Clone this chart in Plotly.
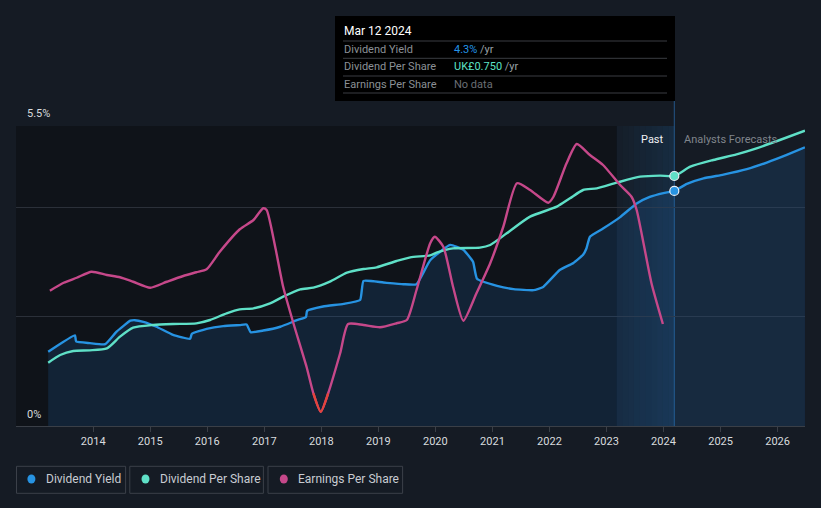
import math
from datetime import datetime
import plotly.graph_objects as go

# ---------------- data (decimal years) ----------------
yield_x = [2013.21, 2013.68, 2013.70, 2013.94, 2014.21, 2014.41, 2014.65, 2014.73, 2014.88, 2015.11,
           2015.40, 2015.70, 2015.73, 2015.99, 2016.28, 2016.57, 2016.69, 2016.76, 2016.98, 2017.28,
           2017.57, 2017.73, 2017.75, 2018.03, 2018.39, 2018.68, 2018.74, 2019.09, 2019.44, 2019.67,
           2019.91, 2020.26, 2020.49, 2020.66, 2020.73, 2021.08, 2021.37, 2021.72, 2021.89, 2022.18,
           2022.42, 2022.59, 2022.65, 2022.71, 2022.94, 2023.24, 2023.53, 2023.76, 2024.00, 2024.19,
           2024.41, 2024.70, 2025.05, 2025.46, 2025.81, 2026.16, 2026.48]
yield_pct = [1.36, 1.66, 1.55, 1.52, 1.50, 1.73, 1.93, 1.94, 1.91, 1.82,
             1.67, 1.60, 1.69, 1.78, 1.83, 1.85, 1.86, 1.72, 1.75, 1.82,
             1.94, 2.00, 2.11, 2.19, 2.24, 2.31, 2.66, 2.63, 2.60, 2.60,
             3.04, 3.32, 3.23, 3.01, 2.70, 2.57, 2.51, 2.49, 2.55, 2.86,
             2.99, 3.14, 3.26, 3.47, 3.62, 3.83, 4.08, 4.20, 4.27, 4.31,
             4.44, 4.54, 4.61, 4.71, 4.83, 4.97, 5.11]

dps_x = [2013.21, 2013.42, 2013.65, 2013.94, 2014.24, 2014.47, 2014.70, 2015.05, 2015.40, 2015.81,
         2016.05, 2016.34, 2016.57, 2016.81, 2017.10, 2017.33, 2017.63, 2017.86, 2018.15, 2018.45,
         2018.74, 2018.97, 2019.32, 2019.56, 2019.91, 2020.02, 2020.31, 2020.78, 2020.96, 2021.25,
         2021.66, 2022.13, 2022.36, 2022.59, 2022.83, 2023.18, 2023.59, 2023.94, 2024.19, 2024.47,
         2024.87, 2025.28, 2025.63, 2026.04, 2026.48]
dps_gbp = [0.190, 0.213, 0.225, 0.227, 0.233, 0.268, 0.295, 0.303, 0.306, 0.308,
           0.318, 0.338, 0.350, 0.353, 0.368, 0.388, 0.410, 0.415, 0.433, 0.460,
           0.471, 0.476, 0.495, 0.506, 0.512, 0.520, 0.533, 0.535, 0.543, 0.578,
           0.628, 0.658, 0.683, 0.708, 0.713, 0.730, 0.748, 0.751, 0.750, 0.778,
           0.798, 0.815, 0.833, 0.858, 0.886]

eps_x = [2013.24, 2013.48, 2013.71, 2013.97, 2014.24, 2014.47, 2014.70, 2015.00, 2015.29, 2015.58,
         2015.81, 2015.99, 2016.22, 2016.57, 2016.81, 2016.98, 2017.04, 2017.19, 2017.33, 2017.51,
         2017.74, 2017.86, 2017.99, 2018.12, 2018.33, 2018.47, 2018.74, 2019.03, 2019.32, 2019.50,
         2019.67, 2019.91, 2019.99, 2020.14, 2020.31, 2020.49, 2020.72, 2020.96, 2021.19, 2021.43,
         2021.66, 2021.98, 2022.07, 2022.30, 2022.48, 2022.71, 2022.94, 2023.24, 2023.44, 2023.53,
         2023.65, 2023.79, 2023.99]
eps_gbp = [0.541, 0.573, 0.593, 0.617, 0.604, 0.595, 0.577, 0.553, 0.577, 0.600,
           0.615, 0.627, 0.697, 0.787, 0.824, 0.871, 0.864, 0.717, 0.557, 0.411,
           0.237, 0.131, 0.057, 0.131, 0.291, 0.408, 0.404, 0.395, 0.411, 0.424,
           0.544, 0.731, 0.757, 0.717, 0.557, 0.421, 0.531, 0.651, 0.797, 0.971,
           0.944, 0.893, 0.917, 1.051, 1.128, 1.084, 1.044, 0.964, 0.917, 0.864,
           0.731, 0.571, 0.408]

eps_low_x = [2017.86, 2017.99, 2018.12]
eps_low = [0.131, 0.057, 0.131]

tick_years = [2014, 2015, 2016, 2017, 2018, 2019, 2020, 2021, 2022, 2023, 2024, 2025, 2026]

hover_x = 2024.19
hover_yield = 4.31
hover_dps = 0.750
past_start = 2023.18

legend_labels = ["Dividend Yield", "Dividend Per Share", "Earnings Per Share"]
tooltip_rows = ["Dividend Yield", "Dividend Per Share", "Earnings Per Share"]

BLUE = "#2793e2"
TEAL = "#5fe0c7"
PINK = "#c6488a"
RED = "#e5443a"
BG = "#151b24"


def to_date(y):
    yr = int(math.floor(y))
    a = datetime(yr, 1, 1)
    b = datetime(yr + 1, 1, 1)
    return a + (b - a) * (y - yr)


def dates(xs):
    return [to_date(v) for v in xs]


# plot area in pixels: x 16..805, y 126..426
def px(xp):
    return (xp - 16) / 789.0


def py(yp):
    return (426 - yp) / 300.0


LW = 2.4
fig = go.Figure()

fig.add_trace(go.Scatter(x=dates(yield_x), y=yield_pct, mode="lines", fill="tozeroy",
                         fillcolor="rgba(35,120,200,0.17)", line=dict(color=BLUE, width=LW),
                         line_shape="spline", line_smoothing=0.4, hoverinfo="skip", showlegend=False))
fig.add_trace(go.Scatter(x=dates(dps_x), y=dps_gbp, yaxis="y2", mode="lines",
                         line=dict(color=TEAL, width=LW), line_shape="spline", line_smoothing=0.6,
                         hoverinfo="skip", showlegend=False))
fig.add_trace(go.Scatter(x=dates(eps_x), y=eps_gbp, yaxis="y3", mode="lines",
                         line=dict(color=PINK, width=LW), line_shape="spline", line_smoothing=0.6,
                         hoverinfo="skip", showlegend=False))
fig.add_trace(go.Scatter(x=dates(eps_low_x), y=eps_low, yaxis="y3", mode="lines",
                         line=dict(color=RED, width=LW), line_shape="spline", line_smoothing=0.6,
                         hoverinfo="skip", showlegend=False))
fig.add_trace(go.Scatter(x=[to_date(hover_x)], y=[hover_dps], yaxis="y2", mode="markers",
                         marker=dict(color=TEAL, size=9, line=dict(color="#e8eef5", width=1.2)),
                         hoverinfo="skip", showlegend=False))
fig.add_trace(go.Scatter(x=[to_date(hover_x)], y=[hover_yield], mode="markers",
                         marker=dict(color=BLUE, size=9, line=dict(color="#e8eef5", width=1.2)),
                         hoverinfo="skip", showlegend=False))

shapes = []
# darker past background
shapes.append(dict(type="rect", xref="x", yref="paper", x0=to_date(2012.0), x1=to_date(past_start),
                   y0=0, y1=1, fillcolor="#0f1319", line=dict(width=0), layer="below"))
# gradient past band
n = 10
step = (hover_x - past_start) / n
for i in range(n):
    a = 0.03 + 0.20 * (i + 1) / n
    shapes.append(dict(type="rect", xref="x", yref="paper", x0=to_date(past_start + i * step),
                       x1=to_date(past_start + (i + 1) * step), y0=0, y1=1,
                       fillcolor="rgba(30,100,160,%.3f)" % a, line=dict(width=0), layer="below"))
# hover vertical line
shapes.append(dict(type="line", xref="x", yref="paper", x0=to_date(hover_x), x1=to_date(hover_x),
                   y0=0, y1=py(101), line=dict(color="rgba(40,100,160,0.8)", width=1), layer="below"))
# tooltip box
shapes.append(dict(type="rect", xref="paper", yref="paper", x0=px(335), x1=px(675), y0=py(101), y1=py(16),
                   fillcolor="#000000", line=dict(width=0)))
for yy in [41, 58.3, 76, 93]:
    shapes.append(dict(type="line", xref="paper", yref="paper", x0=px(343), x1=px(667), y0=py(yy), y1=py(yy),
                       line=dict(color="#3a3d42", width=1)))
# legend boxes
legend_boxes = [(16.5, 125.6), (129.8, 263.4), (268, 402.6)]
legend_dots = [31.4, 145.5, 283.8]
legend_text_x = [44, 158, 296]
legend_colors = [BLUE, TEAL, PINK]
for (x0, x1) in legend_boxes:
    shapes.append(dict(type="rect", xref="paper", yref="paper", x0=px(x0), x1=px(x1), y0=py(493.3), y1=py(466.3),
                       fillcolor="rgba(0,0,0,0)", line=dict(color="#3b4049", width=1)))
for dx, c in zip(legend_dots, legend_colors):
    shapes.append(dict(type="circle", xref="paper", yref="paper", x0=px(dx - 4), x1=px(dx + 4),
                       y0=py(483.5), y1=py(474.5), fillcolor=c, line=dict(width=0)))

ann = []
ann.append(dict(xref="paper", yref="paper", x=px(25), y=py(114), text="5.5%", showarrow=False,
                xanchor="left", yanchor="middle", font=dict(size=11, color="#d8dbdf")))
ann.append(dict(xref="paper", yref="paper", x=px(25), y=py(414), text="0%", showarrow=False,
                xanchor="left", yanchor="middle", font=dict(size=11, color="#d8dbdf")))
ann.append(dict(xref="paper", yref="paper", x=px(666), y=py(139), text="Past", showarrow=False,
                xanchor="right", yanchor="middle", font=dict(size=11, color="#f0f2f4")))
ann.append(dict(xref="paper", yref="paper", x=px(682), y=py(139), text="Analysts Forecasts", showarrow=False,
                xanchor="left", yanchor="middle", font=dict(size=11, color="#80858c")))
# tooltip text
ann.append(dict(xref="paper", yref="paper", x=px(342), y=py(31), text="Mar 12 2024", showarrow=False,
                xanchor="left", yanchor="middle", font=dict(size=12, color="#ffffff")))
row_y = [49.5, 66.5, 84]
values = ["<span style='color:#2394e8'>4.3%</span> /yr",
          "<span style='color:#5de3c6'>UK£0.750</span> /yr",
          "<span style='color:#6b6f75'>No data</span>"]
for lab, yy, val in zip(tooltip_rows, row_y, values):
    ann.append(dict(xref="paper", yref="paper", x=px(342), y=py(yy), text=lab, showarrow=False,
                    xanchor="left", yanchor="middle", font=dict(size=11, color="#8b9096")))
    ann.append(dict(xref="paper", yref="paper", x=px(452), y=py(yy), text=val, showarrow=False,
                    xanchor="left", yanchor="middle", font=dict(size=11, color="#9aa0a6")))
for lab, tx in zip(legend_labels, legend_text_x):
    ann.append(dict(xref="paper", yref="paper", x=px(tx), y=py(479.5), text=lab, showarrow=False,
                    xanchor="left", yanchor="middle", font=dict(size=12, color="#c8ccd2")))

fig.update_layout(
    width=821, height=508,
    margin=dict(l=16, r=16, t=126, b=82),
    paper_bgcolor=BG, plot_bgcolor=BG,
    font=dict(family="Roboto, 'Open Sans', sans-serif"),
    showlegend=False,
    hovermode=False,
    shapes=shapes,
    annotations=ann,
    xaxis=dict(type="date", range=[to_date(2012.646), to_date(2026.481)],
               tickvals=[datetime(y, 1, 1) for y in tick_years], ticktext=[str(y) for y in tick_years],
               showgrid=False, zeroline=False, showline=True, linecolor="#3a3f47", linewidth=1,
               ticks="outside", ticklen=5, tickcolor="#3a3f47",
               tickfont=dict(size=11, color="#d8dbdf")),
    yaxis=dict(range=[0, 5.5], tickvals=[0, 2, 4, 5.5], showticklabels=False,
               showgrid=True, gridcolor="#2b3039", gridwidth=1, zeroline=False, fixedrange=True),
    yaxis2=dict(range=[0, 0.9], overlaying="y", visible=False),
    yaxis3=dict(range=[0, 1.2], overlaying="y", visible=False),
)

fig.write_html("out.html", config={"displayModeBar": False},
               post_script="document.body.style.margin='0';document.body.style.overflow='hidden';"
                           "document.body.style.background='%s';" % BG)
